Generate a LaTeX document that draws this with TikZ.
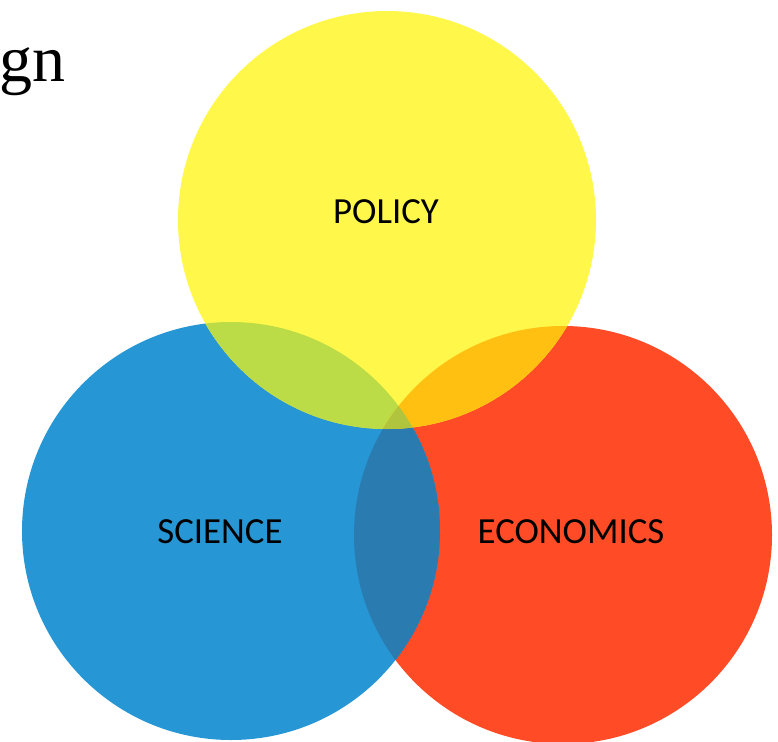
\documentclass[tikz,border=0pt]{standalone}
\usepackage{fontspec}
\setmainfont{Liberation Serif}
\newfontfamily\labelfont{Carlito}
\usepackage{tikz}
\usetikzlibrary{positioning}

\definecolor{polyellow}{HTML}{FFF84A}
\definecolor{sciblue}{HTML}{2796D4}
\definecolor{ecored}{HTML}{FF4B26}
\definecolor{polsci}{HTML}{BBDC46}
\definecolor{poleco}{HTML}{FFC012}
\definecolor{scieco}{HTML}{297BB0}
\definecolor{allthree}{HTML}{B0C43E}

\tikzset{set/.style={circle,minimum size=418pt,inner sep=0pt,draw=none},
  tag/.style={font=\labelfont\fontsize{36.8}{40}\selectfont,inner sep=0pt}}

\begin{document}
\begin{tikzpicture}[x=1pt,y=-1pt]
\useasboundingbox (0,0) rectangle (778,741);

\node[set,fill=ecored] (eco) at (563,535) {};
\node[set,fill=sciblue] (sci) at (231,531) {};
\node[set,fill=polyellow] (pol) at (387,220) {};

% overlaps
\begin{scope}
\clip (sci.center) circle (209pt);
\fill[scieco] (eco.center) circle (209pt);
\end{scope}
\begin{scope}
\clip (pol.center) circle (209pt);
\fill[polsci] (sci.center) circle (209pt);
\fill[poleco] (eco.center) circle (209pt);
\clip (sci.center) circle (209pt);
\fill[allthree] (eco.center) circle (209pt);
\end{scope}

\node[tag] (pol label) at (386,212) {POLICY};
\node[tag] (sci label) at (220,532) {SCIENCE};
\node[tag] (eco label) at (571,532) {ECONOMICS};

\node[anchor=base west,inner sep=0pt,font=\fontsize{66}{70}\selectfont] (title) at (-1,82) {gn};
\end{tikzpicture}
\end{document}
